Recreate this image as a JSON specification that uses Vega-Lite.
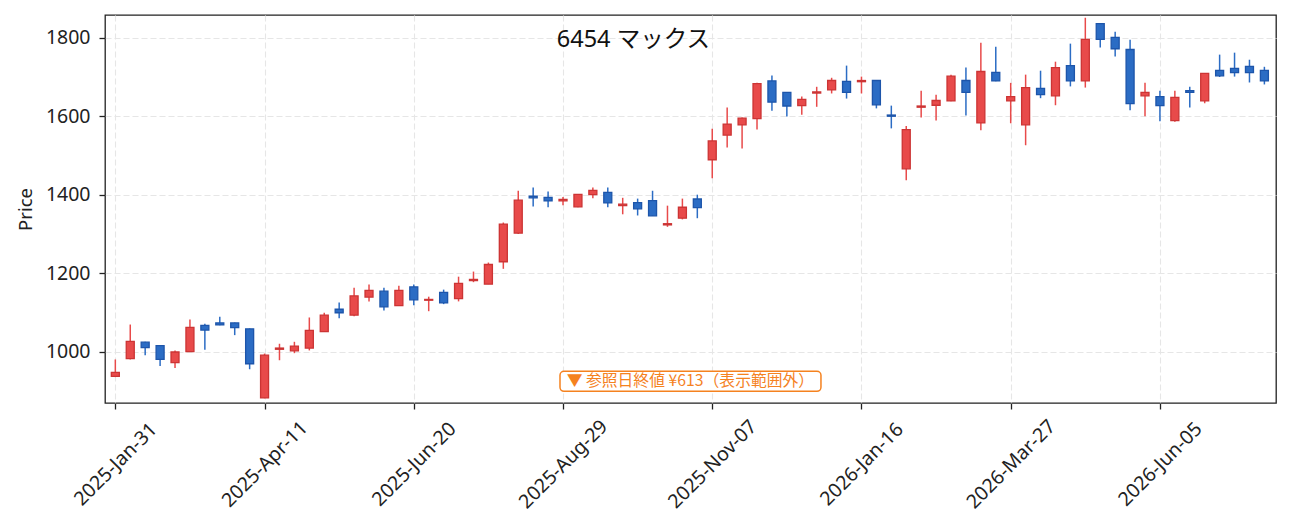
{
  "$schema": "https://vega.github.io/schema/vega-lite/v6.json",
  "width": 1171,
  "height": 388,
  "autosize": {"type": "none"},
  "padding": {"left": 105, "top": 15, "right": 15, "bottom": 129},
  "background": "white",
  "config": {
    "font": "Noto Sans, Noto Sans CJK JP",
    "view": {"stroke": "#222222", "strokeWidth": 1.3},
    "axis": {
      "domain": false,
      "grid": true,
      "gridColor": "#e6e6e6",
      "gridDash": [6, 3],
      "gridWidth": 1.1,
      "tickColor": "#222222",
      "tickWidth": 1.3,
      "tickSize": 6,
      "labelColor": "#222222",
      "labelFontSize": 19.5,
      "labelFont": "Noto Sans, Noto Sans CJK JP",
      "titleFont": "Noto Sans, Noto Sans CJK JP",
      "titleColor": "#222222",
      "titleFontWeight": "normal"
    }
  },
  "data": {
    "values": [
      {"date": "2025-01-31", "open": 937, "high": 980, "low": 935, "close": 947},
      {"date": "2025-02-07", "open": 982, "high": 1069, "low": 980, "close": 1026},
      {"date": "2025-02-14", "open": 1024, "high": 1025, "low": 991, "close": 1010},
      {"date": "2025-02-21", "open": 1015, "high": 1017, "low": 963, "close": 980},
      {"date": "2025-02-28", "open": 972, "high": 1003, "low": 958, "close": 999},
      {"date": "2025-03-07", "open": 1000, "high": 1082, "low": 999, "close": 1062},
      {"date": "2025-03-14", "open": 1067, "high": 1071, "low": 1005, "close": 1055},
      {"date": "2025-03-21", "open": 1073, "high": 1089, "low": 1067, "close": 1068},
      {"date": "2025-03-28", "open": 1073, "high": 1074, "low": 1042, "close": 1061},
      {"date": "2025-04-04", "open": 1058, "high": 1059, "low": 955, "close": 969},
      {"date": "2025-04-11", "open": 882, "high": 995, "low": 881, "close": 991},
      {"date": "2025-04-18", "open": 1006, "high": 1020, "low": 978, "close": 1009},
      {"date": "2025-04-25", "open": 1002, "high": 1025, "low": 996, "close": 1014},
      {"date": "2025-05-02", "open": 1009, "high": 1087, "low": 1003, "close": 1054},
      {"date": "2025-05-09", "open": 1051, "high": 1099, "low": 1050, "close": 1093},
      {"date": "2025-05-16", "open": 1108, "high": 1125, "low": 1085, "close": 1099},
      {"date": "2025-05-23", "open": 1093, "high": 1163, "low": 1090, "close": 1142},
      {"date": "2025-05-30", "open": 1139, "high": 1171, "low": 1128, "close": 1156},
      {"date": "2025-06-06", "open": 1154, "high": 1163, "low": 1105, "close": 1114},
      {"date": "2025-06-13", "open": 1117, "high": 1168, "low": 1117, "close": 1156},
      {"date": "2025-06-20", "open": 1165, "high": 1171, "low": 1118, "close": 1132},
      {"date": "2025-06-27", "open": 1131, "high": 1140, "low": 1103, "close": 1133},
      {"date": "2025-07-04", "open": 1151, "high": 1158, "low": 1121, "close": 1124},
      {"date": "2025-07-11", "open": 1135, "high": 1191, "low": 1128, "close": 1174},
      {"date": "2025-07-18", "open": 1181, "high": 1204, "low": 1177, "close": 1184},
      {"date": "2025-07-25", "open": 1172, "high": 1227, "low": 1172, "close": 1222},
      {"date": "2025-08-01", "open": 1229, "high": 1329, "low": 1211, "close": 1325},
      {"date": "2025-08-08", "open": 1302, "high": 1410, "low": 1300, "close": 1386},
      {"date": "2025-08-15", "open": 1396, "high": 1418, "low": 1370, "close": 1392},
      {"date": "2025-08-22", "open": 1393, "high": 1408, "low": 1368, "close": 1384},
      {"date": "2025-08-29", "open": 1384, "high": 1394, "low": 1373, "close": 1388},
      {"date": "2025-09-05", "open": 1369, "high": 1402, "low": 1368, "close": 1401},
      {"date": "2025-09-12", "open": 1400, "high": 1418, "low": 1391, "close": 1411},
      {"date": "2025-09-19", "open": 1406, "high": 1418, "low": 1368, "close": 1379},
      {"date": "2025-09-26", "open": 1372, "high": 1392, "low": 1350, "close": 1376},
      {"date": "2025-10-03", "open": 1380, "high": 1390, "low": 1347, "close": 1364},
      {"date": "2025-10-10", "open": 1385, "high": 1410, "low": 1346, "close": 1346},
      {"date": "2025-10-17", "open": 1323, "high": 1372, "low": 1318, "close": 1326},
      {"date": "2025-10-24", "open": 1340, "high": 1390, "low": 1337, "close": 1368},
      {"date": "2025-10-31", "open": 1389, "high": 1400, "low": 1340, "close": 1367},
      {"date": "2025-11-07", "open": 1489, "high": 1568, "low": 1442, "close": 1537},
      {"date": "2025-11-14", "open": 1552, "high": 1622, "low": 1520, "close": 1580},
      {"date": "2025-11-21", "open": 1578, "high": 1597, "low": 1518, "close": 1595},
      {"date": "2025-11-28", "open": 1594, "high": 1685, "low": 1566, "close": 1683},
      {"date": "2025-12-05", "open": 1690, "high": 1704, "low": 1614, "close": 1636},
      {"date": "2025-12-12", "open": 1661, "high": 1662, "low": 1599, "close": 1626},
      {"date": "2025-12-19", "open": 1627, "high": 1650, "low": 1604, "close": 1643},
      {"date": "2025-12-26", "open": 1659, "high": 1675, "low": 1624, "close": 1662},
      {"date": "2026-01-02", "open": 1667, "high": 1698, "low": 1658, "close": 1691},
      {"date": "2026-01-09", "open": 1689, "high": 1729, "low": 1645, "close": 1661},
      {"date": "2026-01-16", "open": 1688, "high": 1701, "low": 1658, "close": 1691},
      {"date": "2026-01-23", "open": 1691, "high": 1692, "low": 1620, "close": 1629},
      {"date": "2026-01-30", "open": 1603, "high": 1627, "low": 1569, "close": 1600},
      {"date": "2026-02-06", "open": 1466, "high": 1575, "low": 1437, "close": 1566},
      {"date": "2026-02-13", "open": 1623, "high": 1665, "low": 1597, "close": 1626},
      {"date": "2026-02-20", "open": 1628, "high": 1655, "low": 1589, "close": 1640},
      {"date": "2026-02-27", "open": 1639, "high": 1706, "low": 1638, "close": 1702},
      {"date": "2026-03-06", "open": 1691, "high": 1724, "low": 1602, "close": 1661},
      {"date": "2026-03-13", "open": 1583, "high": 1787, "low": 1564, "close": 1714},
      {"date": "2026-03-20", "open": 1712, "high": 1777, "low": 1689, "close": 1690},
      {"date": "2026-03-27", "open": 1639, "high": 1685, "low": 1582, "close": 1650},
      {"date": "2026-04-03", "open": 1578, "high": 1706, "low": 1526, "close": 1673},
      {"date": "2026-04-10", "open": 1671, "high": 1716, "low": 1646, "close": 1655},
      {"date": "2026-04-17", "open": 1652, "high": 1739, "low": 1628, "close": 1724},
      {"date": "2026-04-24", "open": 1729, "high": 1785, "low": 1676, "close": 1690},
      {"date": "2026-05-01", "open": 1690, "high": 1851, "low": 1673, "close": 1796},
      {"date": "2026-05-08", "open": 1836, "high": 1837, "low": 1775, "close": 1796},
      {"date": "2026-05-15", "open": 1801, "high": 1815, "low": 1752, "close": 1772},
      {"date": "2026-05-22", "open": 1770, "high": 1795, "low": 1615, "close": 1632},
      {"date": "2026-05-29", "open": 1652, "high": 1685, "low": 1600, "close": 1661},
      {"date": "2026-06-05", "open": 1650, "high": 1665, "low": 1587, "close": 1627},
      {"date": "2026-06-12", "open": 1589, "high": 1665, "low": 1586, "close": 1648},
      {"date": "2026-06-19", "open": 1665, "high": 1675, "low": 1622, "close": 1661},
      {"date": "2026-06-26", "open": 1639, "high": 1710, "low": 1633, "close": 1709},
      {"date": "2026-07-03", "open": 1717, "high": 1757, "low": 1700, "close": 1703},
      {"date": "2026-07-10", "open": 1722, "high": 1762, "low": 1701, "close": 1711},
      {"date": "2026-07-17", "open": 1727, "high": 1744, "low": 1686, "close": 1711},
      {"date": "2026-07-24", "open": 1717, "high": 1726, "low": 1681, "close": 1690}
    ]
  },
  "layer": [
    {
      "mark": {"type": "rule", "strokeWidth": 1.5},
      "encoding": {
        "x": {
          "field": "date",
          "type": "temporal",
          "scale": {
            "type": "utc",
            "domain": [
              {"year": 2025, "month": 1, "date": 28, "hours": 12, "utc": true},
              {"year": 2026, "month": 7, "date": 27, "hours": 2, "minutes": 24, "utc": true}
            ]
          },
          "axis": {
            "title": null,
            "values": [
              {"year": 2025, "month": 1, "date": 31, "utc": true},
              {"year": 2025, "month": 4, "date": 11, "utc": true},
              {"year": 2025, "month": 6, "date": 20, "utc": true},
              {"year": 2025, "month": 8, "date": 29, "utc": true},
              {"year": 2025, "month": 11, "date": 7, "utc": true},
              {"year": 2026, "month": 1, "date": 16, "utc": true},
              {"year": 2026, "month": 3, "date": 27, "utc": true},
              {"year": 2026, "month": 6, "date": 5, "utc": true}
            ],
            "labelExpr": "utcFormat(datum.value, '%Y-%b-%d')",
            "labelAngle": -45,
            "labelAlign": "center",
            "labelBaseline": "middle",
            "labelPadding": 55,
            "labelOverlap": false,
            "labelFlush": false
          }
        },
        "y": {
          "field": "low",
          "type": "quantitative",
          "scale": {"domain": [869, 1858], "nice": false, "zero": false},
          "axis": {
            "title": "Price",
            "values": [1000, 1200, 1400, 1600, 1800],
            "labelExpr": "format(datum.value, 'd')",
            "labelPadding": 9,
            "titlePadding": 10,
            "titleFontSize": 18.5
          }
        },
        "y2": {"field": "high"},
        "color": {
          "condition": {"test": "datum.close >= datum.open", "value": "#e84a4a"},
          "value": "#2b6cc4"
        }
      }
    },
    {
      "mark": {"type": "bar", "width": 8, "strokeWidth": 1.3},
      "encoding": {
        "x": {"field": "date", "type": "temporal"},
        "y": {"field": "open", "type": "quantitative"},
        "y2": {"field": "close"},
        "fill": {
          "condition": {"test": "datum.close >= datum.open", "value": "#e84a4a"},
          "value": "#2b6cc4"
        },
        "stroke": {
          "condition": {"test": "datum.close >= datum.open", "value": "#cc3434"},
          "value": "#1d55aa"
        }
      }
    },
    {
      "data": {"values": [{}]},
      "mark": {"type": "rect", "fill": "white", "stroke": "#f5821f", "strokeWidth": 1.5, "cornerRadius": 4},
      "encoding": {
        "x": {"datum": {"year": 2025, "month": 8, "date": 27, "hours": 14, "utc": true}, "type": "temporal"},
        "x2": {"datum": {"year": 2025, "month": 12, "date": 28, "utc": true}},
        "y": {"datum": 949.8, "type": "quantitative"},
        "y2": {"datum": 898.9}
      }
    },
    {
      "data": {"values": [{}]},
      "mark": {"type": "text", "text": "▼ 参照日終値 ¥613（表示範囲外）", "font": "Noto Sans CJK JP", "fontSize": 15.8, "color": "#f5821f", "align": "center", "baseline": "middle"},
      "encoding": {
        "x": {"datum": {"year": 2025, "month": 10, "date": 27, "hours": 18, "utc": true}, "type": "temporal"},
        "y": {"datum": 924.3, "type": "quantitative"}
      }
    },
    {
      "data": {"values": [{}]},
      "mark": {"type": "text", "text": "6454 マックス", "fontSize": 23.5, "color": "#111111", "align": "center", "baseline": "middle"},
      "encoding": {
        "x": {"datum": {"year": 2025, "month": 10, "date": 1, "utc": true}, "type": "temporal"},
        "y": {"datum": 1795, "type": "quantitative"}
      }
    }
  ]
}
